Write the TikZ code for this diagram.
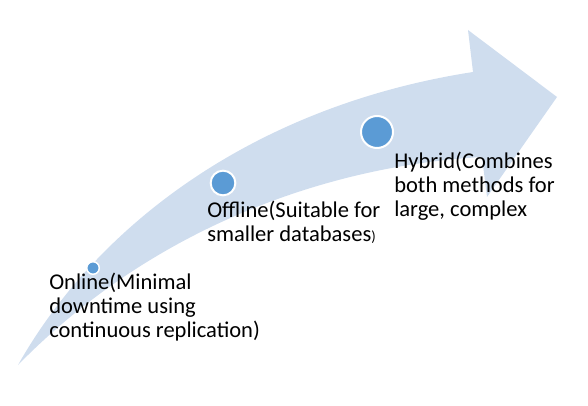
\documentclass[tikz,border=0pt]{standalone}
\usepackage{fontspec}
\setmainfont{Carlito}
\usetikzlibrary{positioning}
\definecolor{bandblue}{RGB}{207,221,238}
\definecolor{dotblue}{RGB}{91,155,213}

\begin{document}
\begin{tikzpicture}[
  x=0.75pt, y=-0.75pt,
  font=\fontsize{16.9}{18}\selectfont,
  dot/.style={circle, fill=dotblue, draw=white, inner sep=0pt},
  stage/.style={anchor=base west, inner sep=0pt, align=left}
]
\useasboundingbox (0,0) rectangle (588,406);
% rising arrow band
\fill[bandblue] (18,365) .. controls (100,220) and (260,105) .. (473,72)
  -- (468,30) -- (557,97) -- (487,197) -- (482,157)
  .. controls (340,165) and (160,220) .. cycle;
% stage markers
\node[dot, minimum size=9.4pt, line width=1.1pt] (online) at (93,268) {};
\node[dot, minimum size=18.5pt, line width=1.5pt] (offline) at (223,183) {};
\node[dot, minimum size=24pt, line width=1.5pt] (hybrid) at (377,132) {};
% stage labels (placed at the last baseline)
\node[stage] (onlinetxt) at (49,337) {Online(Minimal\\downtime using\\continuous replication)};
\node[stage] (offlinetxt) at (207,241) {Offline(Suitable for\\smaller databases{\fontsize{11}{11}\selectfont)}};
\node[stage] (hybridtxt) at (394,216) {Hybrid(Combines\\both methods for\\large, complex};
\end{tikzpicture}
\end{document}
